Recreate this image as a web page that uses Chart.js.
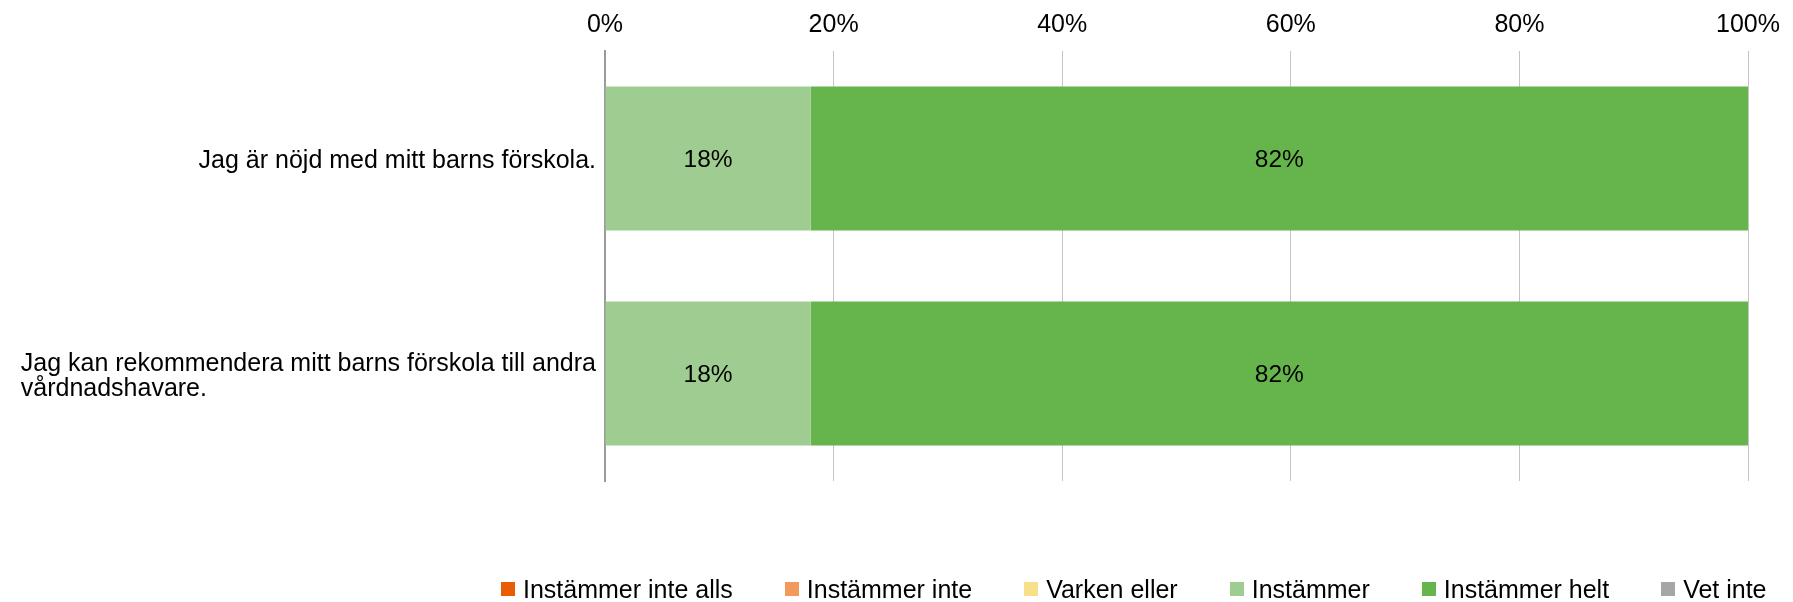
<!DOCTYPE html>
<html lang="sv">
<head>
<meta charset="utf-8">
<title>Förskola</title>
<script src="https://cdn.jsdelivr.net/npm/chart.js@4.4.1/dist/chart.umd.min.js"></script>
<style>
  body { margin: 0; background: #fff; overflow: hidden; }
  #wrap { position: relative; width: 1793px; height: 602px; }
  #legend {
    position: absolute; left: 501px; top: 576px;
    display: flex; align-items: center;
    font: 25px "Liberation Sans", Arial, sans-serif; line-height: 26px; color: #000;
  }
  #legend .item { display: flex; align-items: center; margin-right: 52px; white-space: nowrap; }
  #legend .item:last-child { margin-right: 0; }
  #legend .box { width: 14px; height: 14px; margin-right: 8px; }
</style>
</head>
<body>
<div id="wrap">
  <canvas id="chart"></canvas>
  <div id="legend"></div>
</div>
<script>
const categories = [
  'Jag är nöjd med mitt barns förskola.',
  ['Jag kan rekommendera mitt barns förskola till andra', 'vårdnadshavare.']
];
const seriesNames = ['Instämmer inte alls', 'Instämmer inte', 'Varken eller', 'Instämmer', 'Instämmer helt', 'Vet inte'];
const instammerInteAlls = [0, 0];
const instammerInte = [0, 0];
const varkenEller = [0, 0];
const instammer = [18, 18];
const instammerHelt = [82, 82];
const vetInte = [0, 0];
const xTicks = [0, 20, 40, 60, 80, 100];
const colors = ['#E85D04', '#F2995C', '#F6E08A', '#9FCD91', '#66B44C', '#A6A6A6'];

const FONT = '"Liberation Sans", Arial, sans-serif';
const seriesValues = [instammerInteAlls, instammerInte, varkenEller, instammer, instammerHelt, vetInte];

// category labels: block right-aligned to the axis, lines left-aligned inside it
const yLabels = {
  id: 'yLabels',
  afterDraw(chart) {
    const ctx = chart.ctx, area = chart.chartArea, y = chart.scales.y;
    ctx.save();
    ctx.font = '25px ' + FONT;
    ctx.fillStyle = '#000';
    ctx.textAlign = 'left';
    ctx.textBaseline = 'middle';
    categories.forEach((lab, i) => {
      const lines = Array.isArray(lab) ? lab : [lab];
      const w = Math.max(...lines.map(l => ctx.measureText(l).width));
      const x = area.left - 9 - w;
      const yc = y.getPixelForValue(i) + 3;
      lines.forEach((l, j) => ctx.fillText(l, x, yc + (j - (lines.length - 1) / 2) * 25));
    });
    ctx.restore();
  }
};

// value labels in the middle of each non-empty segment
const valueLabels = {
  id: 'valueLabels',
  afterDatasetsDraw(chart) {
    const ctx = chart.ctx;
    ctx.save();
    ctx.font = '24.5px ' + FONT;
    ctx.fillStyle = '#000';
    ctx.textAlign = 'center';
    ctx.textBaseline = 'middle';
    chart.data.datasets.forEach((ds, d) => {
      chart.getDatasetMeta(d).data.forEach((bar, i) => {
        const v = ds.data[i];
        if (!v) return;
        const p = bar.getCenterPoint();
        ctx.fillText(v + '%', p.x, p.y + 2);
      });
    });
    ctx.restore();
  }
};

const chart = new Chart(document.getElementById('chart'), {
  type: 'bar',
  data: {
    labels: categories,
    datasets: seriesNames.map((name, i) => ({
      label: name,
      data: seriesValues[i],
      backgroundColor: colors[i],
      borderWidth: 0,
      categoryPercentage: 1,
      barPercentage: 0.67
    }))
  },
  options: {
    indexAxis: 'y',
    responsive: true,
    maintainAspectRatio: false,
    animation: false,
    layout: { padding: { left: 605, right: 45, top: 6, bottom: 121 } },
    plugins: {
      legend: { display: false },
      tooltip: { enabled: false }
    },
    scales: {
      x: {
        position: 'top',
        stacked: true,
        min: 0,
        max: 100,
        afterBuildTicks: s => { s.ticks = xTicks.map(v => ({ value: v })); },
        afterFit: s => { s.height = 45; },
        ticks: {
          padding: 11,
          color: '#000',
          font: { family: FONT, size: 25 },
          callback: v => v + '%'
        },
        grid: { color: '#C4C4C4', lineWidth: 1, drawTicks: false },
        border: { display: false }
      },
      y: {
        stacked: true,
        ticks: { display: false },
        grid: { display: false, drawTicks: false },
        border: { display: true, color: '#9A9A9A', width: 2 }
      }
    }
  },
  plugins: [yLabels, valueLabels]
});

const legend = document.getElementById('legend');
seriesNames.forEach((name, i) => {
  const item = document.createElement('div');
  item.className = 'item';
  const box = document.createElement('span');
  box.className = 'box';
  box.style.background = colors[i];
  const txt = document.createElement('span');
  txt.textContent = name;
  item.appendChild(box);
  item.appendChild(txt);
  legend.appendChild(item);
});
</script>
</body>
</html>
